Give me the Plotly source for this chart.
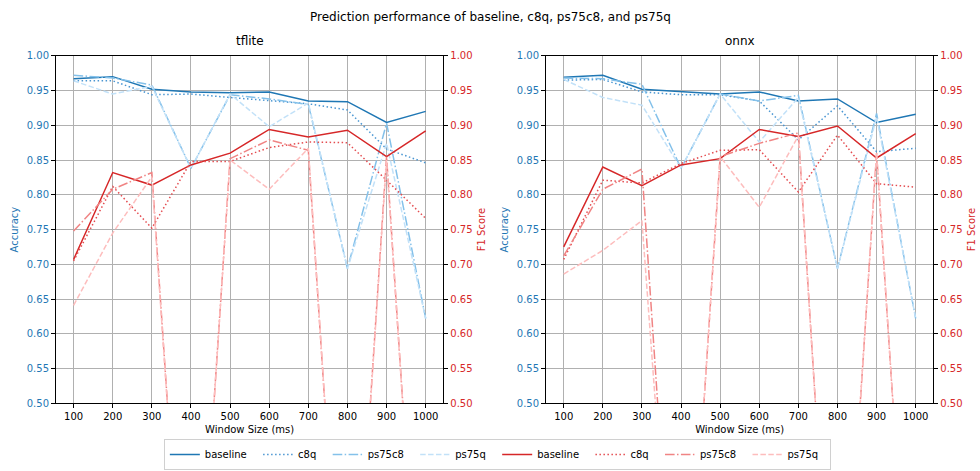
import plotly.graph_objects as go

# Window sizes (ms) on the shared x axis
window_ms = [100, 200, 300, 400, 500, 600, 700, 800, 900, 1000]
variant_names = ["baseline", "c8q", "ps75c8", "ps75q"]
x_tick_labels = [str(v) for v in window_ms]
y_tick_values = [0.50, 0.55, 0.60, 0.65, 0.70, 0.75, 0.80, 0.85, 0.90, 0.95, 1.00]

# tflite - accuracy
tflite_acc_baseline = [0.967, 0.970, 0.952, 0.948, 0.947, 0.948, 0.935, 0.934, 0.904, 0.920]
tflite_acc_c8q = [0.964, 0.964, 0.944, 0.945, 0.940, 0.935, 0.931, 0.922, 0.866, 0.846]
tflite_acc_ps75c8 = [0.972, 0.968, 0.958, 0.838, 0.944, 0.938, 0.930, 0.694, 0.903, 0.622]
tflite_acc_ps75q = [0.964, 0.945, 0.956, 0.838, 0.945, 0.898, 0.932, 0.694, 0.874, 0.622]

# tflite - F1 score
tflite_f1_baseline = [0.707, 0.832, 0.814, 0.843, 0.860, 0.894, 0.883, 0.893, 0.855, 0.892]
tflite_f1_c8q = [0.705, 0.812, 0.752, 0.848, 0.848, 0.868, 0.876, 0.875, 0.821, 0.766]
tflite_f1_ps75c8 = [0.748, 0.808, 0.832, 0.0, 0.852, 0.879, 0.864, 0.0, 0.855, 0.0]
tflite_f1_ps75q = [0.641, 0.745, 0.826, 0.0, 0.850, 0.808, 0.867, 0.0, 0.850, 0.0]

# onnx - accuracy
onnx_acc_baseline = [0.969, 0.972, 0.952, 0.948, 0.945, 0.948, 0.935, 0.938, 0.904, 0.916]
onnx_acc_c8q = [0.965, 0.966, 0.948, 0.944, 0.944, 0.935, 0.879, 0.928, 0.862, 0.867]
onnx_acc_ps75c8 = [0.968, 0.967, 0.959, 0.838, 0.945, 0.935, 0.943, 0.694, 0.917, 0.622]
onnx_acc_ps75q = [0.966, 0.940, 0.929, 0.838, 0.945, 0.876, 0.940, 0.694, 0.912, 0.622]

# onnx - F1 score
onnx_f1_baseline = [0.725, 0.840, 0.813, 0.843, 0.852, 0.894, 0.884, 0.899, 0.853, 0.888]
onnx_f1_c8q = [0.707, 0.821, 0.817, 0.845, 0.864, 0.865, 0.804, 0.886, 0.816, 0.811]
onnx_f1_ps75c8 = [0.712, 0.808, 0.837, 0.0, 0.855, 0.874, 0.889, 0.0, 0.860, 0.0]
onnx_f1_ps75q = [0.686, 0.720, 0.763, 0.0, 0.855, 0.782, 0.885, 0.0, 0.860, 0.0]

ACC_COLOR = "#1f77b4"
F1_COLOR = "#d62728"
acc_colors = ["#1f77b4", "#4a96d2", "#84c1ea", "#c2e1f8"]
f1_colors = ["#d62728", "#e44c50", "#f08484", "#fdbdbd"]
dashes = ["solid", "1.5px,2.5px", "9.6px,2.4px,1.5px,2.4px", "5.5px,2.4px"]

FONT = "DejaVu Sans"
W, H = 980, 471
PAD = "\u00a0\u00a0"  # extra room after each legend label

def px_x(p):
    return p / W

def px_y(p):
    return 1 - p / H

left_dom = [px_x(56.0), px_x(443.3)]
right_dom = [px_x(546.1), px_x(933.3)]
y_dom = [px_y(403.3), px_y(55.8)]

fig = go.Figure()

panels = [
    ("x", "y", "y2", [tflite_acc_baseline, tflite_acc_c8q, tflite_acc_ps75c8, tflite_acc_ps75q],
     [tflite_f1_baseline, tflite_f1_c8q, tflite_f1_ps75c8, tflite_f1_ps75q], True),
    ("x2", "y3", "y4", [onnx_acc_baseline, onnx_acc_c8q, onnx_acc_ps75c8, onnx_acc_ps75q],
     [onnx_f1_baseline, onnx_f1_c8q, onnx_f1_ps75c8, onnx_f1_ps75q], False),
]

for xa, ya_acc, ya_f1, acc_series, f1_series, show in panels:
    for i, name in enumerate(variant_names):
        fig.add_trace(go.Scatter(
            x=window_ms, y=acc_series[i], mode="lines", name=name + PAD,
            line=dict(color=acc_colors[i], width=1.5, dash=dashes[i]),
            xaxis=xa, yaxis=ya_acc, showlegend=show, legendrank=i + 1,
        ))
    for i, name in enumerate(variant_names):
        fig.add_trace(go.Scatter(
            x=window_ms, y=f1_series[i], mode="lines", name=name + PAD,
            line=dict(color=f1_colors[i], width=1.5, dash=dashes[i]),
            xaxis=xa, yaxis=ya_f1, showlegend=show, legendrank=i + 5,
        ))

xaxis_common = dict(
    range=[55, 1045], tickvals=window_ms, ticktext=x_tick_labels,
    showgrid=True, gridcolor="#b0b0b0", gridwidth=0.8,
    showline=True, linecolor="black", linewidth=1, mirror=True,
    ticks="outside", ticklen=4, tickcolor="black",
    tickfont=dict(family=FONT, size=10, color="black"),
    title=dict(text="Window Size (ms)", font=dict(family=FONT, size=10, color="black"), standoff=4),
    zeroline=False, fixedrange=True, automargin=False,
)

def acc_axis(anchor):
    return dict(
        domain=y_dom, anchor=anchor, range=[0.5, 1.0], tickvals=y_tick_values, tickformat=".2f",
        showgrid=True, gridcolor="#b0b0b0", gridwidth=0.8,
        showline=True, linecolor="black", linewidth=1,
        ticks="outside", ticklen=4, tickcolor="black",
        tickfont=dict(family=FONT, size=10, color=ACC_COLOR),
        title=dict(text="Accuracy", font=dict(family=FONT, size=10, color=ACC_COLOR), standoff=6),
        zeroline=False, automargin=False,
    )

def f1_axis(anchor, over):
    return dict(
        domain=y_dom, anchor=anchor, overlaying=over, side="right", range=[0.5, 1.0],
        tickvals=y_tick_values, tickformat=".2f", showgrid=False,
        showline=True, linecolor="black", linewidth=1,
        ticks="outside", ticklen=4, tickcolor="black",
        tickfont=dict(family=FONT, size=10, color=F1_COLOR),
        title=dict(text="F1 Score", font=dict(family=FONT, size=10, color=F1_COLOR), standoff=6),
        zeroline=False, automargin=False,
    )

fig.update_layout(
    width=W, height=H,
    margin=dict(l=0, r=0, t=0, b=0),
    paper_bgcolor="white", plot_bgcolor="white",
    font=dict(family=FONT, size=10, color="black"),
    xaxis=dict(domain=left_dom, anchor="y", **xaxis_common),
    xaxis2=dict(domain=right_dom, anchor="y3", **xaxis_common),
    yaxis=acc_axis("x"),
    yaxis2=f1_axis("x", "y"),
    yaxis3=acc_axis("x2"),
    yaxis4=f1_axis("x2", "y3"),
    legend=dict(
        orientation="h", x=0.5075, xanchor="center", y=px_y(470), yanchor="bottom",
        bordercolor="#d0d0d0", borderwidth=1, bgcolor="white",
        font=dict(family=FONT, size=10, color="black"),
        itemwidth=30, traceorder="normal",
    ),
    showlegend=True,
    annotations=[
        dict(text="Prediction performance of baseline, c8q, ps75c8, and ps75q",
             x=0.5, y=px_y(17), xref="paper", yref="paper", xanchor="center", yanchor="middle",
             showarrow=False, font=dict(family=FONT, size=12, color="black")),
        dict(text="tflite", x=sum(left_dom) / 2, y=px_y(50), xref="paper", yref="paper",
             xanchor="center", yanchor="bottom", showarrow=False,
             font=dict(family=FONT, size=12, color="black")),
        dict(text="onnx", x=sum(right_dom) / 2, y=px_y(50), xref="paper", yref="paper",
             xanchor="center", yanchor="bottom", showarrow=False,
             font=dict(family=FONT, size=12, color="black")),
    ],
)

fig.write_html("out.html")
